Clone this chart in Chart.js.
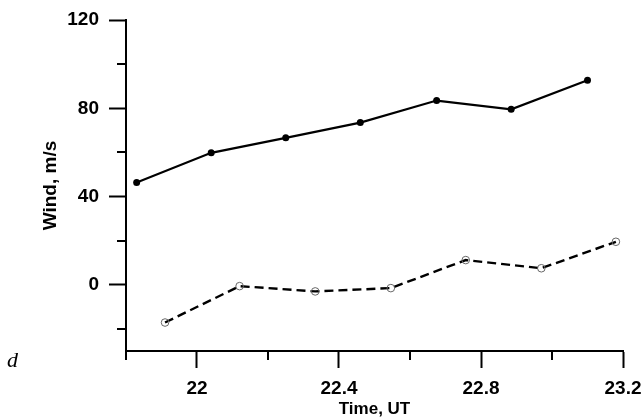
<!DOCTYPE html>
<html>
<head>
<meta charset="utf-8">
<script src="https://cdn.jsdelivr.net/npm/chart.js@4/dist/chart.umd.min.js"></script>
<style>
  body { margin: 0; background: #fff; }
  #wrap { position: relative; width: 643px; height: 418px; }
  #panel { position: absolute; left: 7px; top: 349px; font: italic 22px 'Liberation Serif'; line-height: 22px; color: #000; }
</style>
</head>
<body>
<div id="wrap">
  <canvas id="windChart"></canvas>
  <div id="panel">d</div>
</div>
<script>
    // данные
    const timeSolid = [21.83, 22.04, 22.25, 22.46, 22.675, 22.885, 23.10];
    const windSolid = [46.4, 59.8, 66.6, 73.5, 83.5, 79.5, 92.7];
    const timeDashed = [21.91, 22.12, 22.333, 22.546, 22.757, 22.97, 23.18];
    const windDashed = [-17.1, -0.6, -3.0, -1.5, 11.2, 7.5, 19.5];
    const xLabels = ['22', '22.4', '22.8', '23.2'];
    const yLabels = ['0', '40', '80', '120'];

    const pairs = (xs, ys) => xs.map((x, i) => ({ x: x, y: ys[i] }));

    function isMajorX(v) { return Math.round(v * 10) % 4 === 0; }
    function isMajorY(v) { return Math.round(v) % 40 === 0; }
    function isMinorY(v) { return Math.abs(Math.round(v)) % 40 === 20; }

    // короткие (малые) деления рисуем сами
    const minorTicks = {
        id: 'minorTicks',
        afterDraw(chart) {
            const ctx = chart.ctx;
            const xs = chart.scales.x, ys = chart.scales.y;
            ctx.save();
            ctx.strokeStyle = '#000';
            ctx.lineWidth = 2;
            ctx.beginPath();
            xs.ticks.forEach(t => {
                if (!isMajorX(t.value)) {
                    const px = Math.round(xs.getPixelForValue(t.value));
                    ctx.moveTo(px, xs.top);
                    ctx.lineTo(px, xs.top + 9);
                }
            });
            ys.ticks.forEach(t => {
                if (isMinorY(t.value)) {
                    const py = Math.round(ys.getPixelForValue(t.value));
                    ctx.moveTo(ys.right, py);
                    ctx.lineTo(ys.right - 9, py);
                }
            });
            ctx.stroke();
            ctx.restore();
        }
    };

    Chart.defaults.font.family = "'Liberation Sans', Arial, sans-serif";
    Chart.defaults.color = '#000';

    const ctxWind = document.getElementById('windChart');
    if (ctxWind) {
        const windChart = new Chart(ctxWind.getContext('2d'), {
            type: 'scatter',
            data: {
                datasets: [
                    {
                        data: pairs(timeSolid, windSolid),
                        showLine: true,
                        borderColor: '#000',
                        borderWidth: 2.2,
                        backgroundColor: '#000',
                        pointRadius: 3.5,
                        pointBorderWidth: 0
                    },
                    {
                        data: pairs(timeDashed, windDashed),
                        showLine: true,
                        borderColor: '#000',
                        borderWidth: 2.4,
                        borderDash: [9, 5],
                        pointRadius: 3.8,
                        pointBackgroundColor: 'rgba(255,255,255,0)',
                        pointBorderColor: '#666',
                        pointBorderWidth: 1
                    }
                ]
            },
            options: {
                responsive: true,
                maintainAspectRatio: false,
                animation: false,
                layout: { padding: { top: 20, right: 20, left: 0, bottom: 0 } },
                plugins: {
                    legend: { display: false },
                    tooltip: { enabled: false }
                },
                scales: {
                    x: {
                        type: 'linear',
                        min: 21.8,
                        max: 23.2,
                        afterFit: s => {
                            s.height = 67;
                            s.paddingLeft = 0;
                            s.paddingRight = 0;
                        },
                        border: { display: true, color: '#000', width: 2 },
                        grid: {
                            drawOnChartArea: false,
                            tickLength: 17,
                            tickWidth: 2,
                            tickColor: c => isMajorX(c.tick.value) ? '#000' : 'rgba(0,0,0,0)'
                        },
                        ticks: {
                            stepSize: 0.2,
                            includeBounds: false,
                            autoSkip: false,
                            maxRotation: 0,
                            padding: 9,
                            font: { size: 19, weight: 'bold' },
                            callback: function(value) {
                                const k = Math.round(value * 10);
                                if (k % 4 === 0 && k > 218) {
                                    return xLabels[(k - 220) / 4];
                                }
                                return '';
                            }
                        },
                        title: {
                            display: true,
                            text: 'Time, UT',
                            padding: { top: 0, bottom: 0 },
                            font: { size: 17, weight: 'bold', lineHeight: 1 }
                        }
                    },
                    y: {
                        min: -30,
                        max: 120,
                        afterFit: s => {
                            s.width = 126;
                            s.paddingTop = 0;
                            s.paddingBottom = 0;
                        },
                        border: { display: true, color: '#000', width: 2 },
                        grid: {
                            drawOnChartArea: false,
                            tickLength: 17,
                            tickWidth: 2,
                            tickColor: c => isMajorY(c.tick.value) ? '#000' : 'rgba(0,0,0,0)'
                        },
                        ticks: {
                            stepSize: 20,
                            includeBounds: false,
                            autoSkip: false,
                            padding: 10,
                            font: { size: 19, weight: 'bold' },
                            callback: function(value) {
                                const k = Math.round(value);
                                if (k % 40 === 0 && k >= 0) {
                                    return yLabels[k / 40];
                                }
                                return '';
                            }
                        },
                        title: {
                            display: true,
                            text: 'Wind, m/s',
                            padding: { top: 39, bottom: 0 },
                            font: { size: 19, weight: 'bold' }
                        }
                    }
                }
            },
            plugins: [minorTicks]
        });
    }
</script>
</body>
</html>
